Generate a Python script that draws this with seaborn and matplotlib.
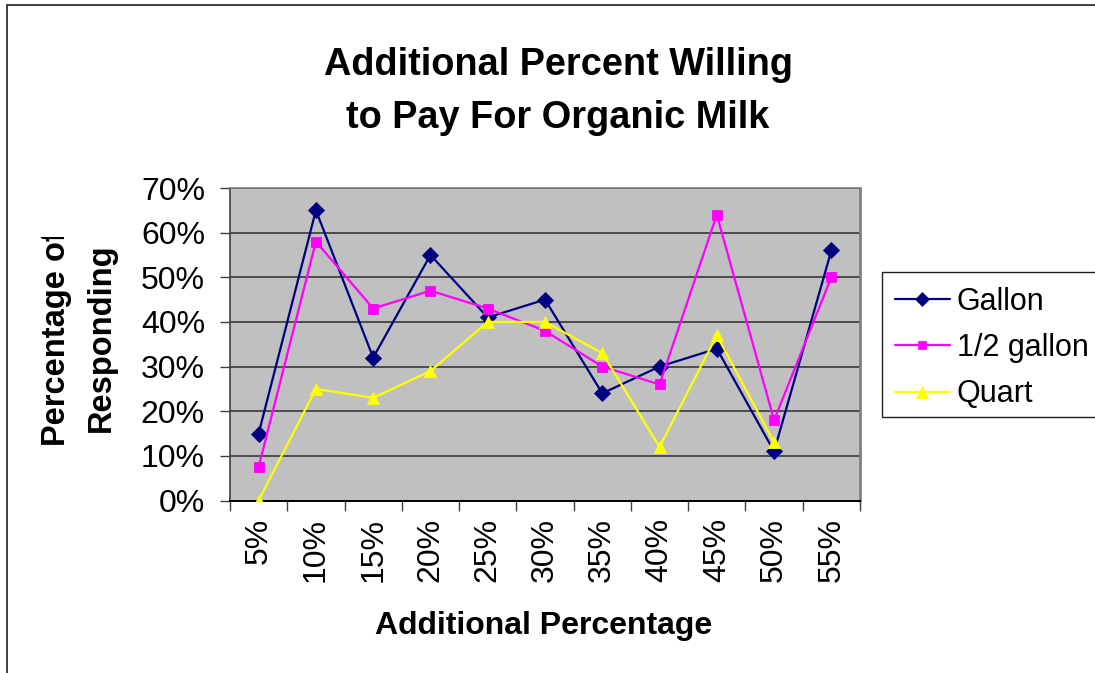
import matplotlib
matplotlib.use("Agg")
import matplotlib.pyplot as plt
import seaborn as sns
import pandas as pd
import numpy as np
from matplotlib.lines import Line2D
from matplotlib.patches import Rectangle
from matplotlib.ticker import FixedLocator, FuncFormatter, NullFormatter
from matplotlib.transforms import Bbox

# Chart data
categories = ["5%", "10%", "15%", "20%", "25%", "30%", "35%", "40%", "45%", "50%", "55%"]
gallon = [0.15, 0.65, 0.32, 0.55, 0.41, 0.45, 0.24, 0.30, 0.34, 0.11, 0.56]
half_gallon = [0.075, 0.58, 0.43, 0.47, 0.43, 0.38, 0.30, 0.26, 0.64, 0.18, 0.50]
quart = [0.00, 0.25, 0.23, 0.29, 0.40, 0.40, 0.33, 0.12, 0.37, 0.13, np.nan]
series_names = ["Gallon", "1/2 gallon", "Quart"]
y_ticks = [0.0, 0.1, 0.2, 0.3, 0.4, 0.5, 0.6, 0.7]

# Styling
colors = {"Gallon": "#000080", "1/2 gallon": "#FF00FF", "Quart": "#FFFF00"}
markers = {"Gallon": "D", "1/2 gallon": "s", "Quart": "^"}
plot_ms = {"Gallon": 8.6, "1/2 gallon": 7.6, "Quart": 9.0}
legend_ms = {"Gallon": 6.8, "1/2 gallon": 6.2, "Quart": 8.0}

frames = []
for name, vals in zip(series_names, [gallon, half_gallon, quart]):
    frames.append(pd.DataFrame({"pos": np.arange(len(categories)),
                                "value": vals, "series": name}))
df = pd.concat(frames, ignore_index=True)

sns.set_theme(style="white")
plt.rcParams["font.family"] = ["Liberation Sans", "DejaVu Sans"]
plt.rcParams["text.color"] = "black"
plt.rcParams["xtick.color"] = "black"
plt.rcParams["ytick.color"] = "black"

W, H = 1095, 673
fig = plt.figure(figsize=(W / 100, H / 100), dpi=100)
fig.patch.set_facecolor("white")

left, right, top, bottom = 230, 860, 188, 500.5
ax = fig.add_axes([left / W, 1 - bottom / H, (right - left) / W, (bottom - top) / H])
ax.set_facecolor("#C0C0C0")

sns.lineplot(data=df, x="pos", y="value", hue="series", style="series",
             hue_order=series_names, style_order=series_names,
             palette=colors, markers=markers, dashes=False,
             estimator=None, errorbar=None, sort=False,
             linewidth=1.6, markersize=8, markeredgewidth=0.6,
             legend=False, ax=ax)

for line, name in zip(ax.lines, series_names):
    line.set_markersize(plot_ms[name])
    line.set_markeredgecolor(colors[name])
    line.set_markerfacecolor(colors[name])
    line.set_zorder(3)

# Axes limits and ticks
ax.set_xlim(-0.5, len(categories) - 0.5)
ax.set_ylim(0, 0.7)
ax.yaxis.set_major_locator(FixedLocator(y_ticks))
ax.yaxis.set_major_formatter(FuncFormatter(lambda v, p: f"{v:.0%}"))
ax.xaxis.set_major_locator(FixedLocator(np.arange(len(categories))))
ax.set_xticklabels(categories, rotation=90)
ax.xaxis.set_minor_locator(FixedLocator(np.arange(len(categories) + 1) - 0.5))
ax.xaxis.set_minor_formatter(NullFormatter())

ax.tick_params(axis="y", which="major", left=True, length=7.5, width=1,
               color="#404040", direction="out", pad=10.5, labelsize=23,
               labelcolor="black")
ax.tick_params(axis="x", which="major", bottom=True, length=0, pad=12.5,
               labelsize=23, labelcolor="black")
ax.tick_params(axis="x", which="minor", bottom=True, length=7, width=1,
               color="#404040", direction="out")

ax.set_xlabel("")
ax.set_ylabel("")

ax.yaxis.grid(True, color="#383838", linewidth=1.2)
ax.xaxis.grid(False)
ax.set_axisbelow(True)

for side, col, lw in [("left", "#404040", 1.2), ("bottom", "#000000", 1.4),
                      ("right", "#808080", 2.0), ("top", "#808080", 1.2)]:
    ax.spines[side].set_visible(True)
    ax.spines[side].set_color(col)
    ax.spines[side].set_linewidth(lw)

# Title
fig.text(558 / W, 1 - 75 / H, "Additional Percent Willing", ha="center",
         va="baseline", fontsize=27.3, fontweight="bold", color="black")
fig.text(558 / W, 1 - 128 / H, "to Pay For Organic Milk", ha="center",
         va="baseline", fontsize=27.3, fontweight="bold", color="black")

# Axis titles
fig.text(544 / W, 1 - 626 / H, "Additional Percentage", ha="center",
         va="center", fontsize=23, fontweight="bold", color="black")
clip = Bbox([[0, 0], [left, H - 237]])
for xpix, txt in [(57, "Percentage of"), (101, "Responding")]:
    t = fig.text(xpix / W, 1 - 338 / H, txt, ha="center", va="center",
                 rotation=90, fontsize=23.5, fontweight="bold", color="black")
    t.set_clip_box(clip)
    t.set_clip_on(True)

# Legend
handles = [Line2D([], [], color=colors[n], marker=markers[n], markersize=legend_ms[n],
                  markeredgewidth=0.5, markeredgecolor=colors[n], linewidth=1.6)
           for n in series_names]
leg = fig.legend(handles, series_names, loc="upper left",
                 bbox_to_anchor=(882 / W, 1 - 274 / H), bbox_transform=fig.transFigure,
                 borderaxespad=0, fontsize=22, frameon=False,
                 borderpad=0.42, labelspacing=0.53, handlelength=1.8,
                 handletextpad=0.22)
for txt in leg.get_texts():
    txt.set_color("black")
fig.add_artist(Rectangle((882 / W, 1 - 417 / H), (W + 20 - 882) / W, 145 / H,
                         transform=fig.transFigure, facecolor="none",
                         edgecolor="#202020", linewidth=1.0, zorder=4))

# Outer chart border
fig.add_artist(Line2D([7 / W, 1.0], [1 - 5 / H, 1 - 5 / H], transform=fig.transFigure,
                      color="#303030", linewidth=1.3))
fig.add_artist(Line2D([7 / W, 7 / W], [0, 1 - 5 / H], transform=fig.transFigure,
                      color="#303030", linewidth=1.3))

fig.savefig("out.png", dpi=100, facecolor="white")
